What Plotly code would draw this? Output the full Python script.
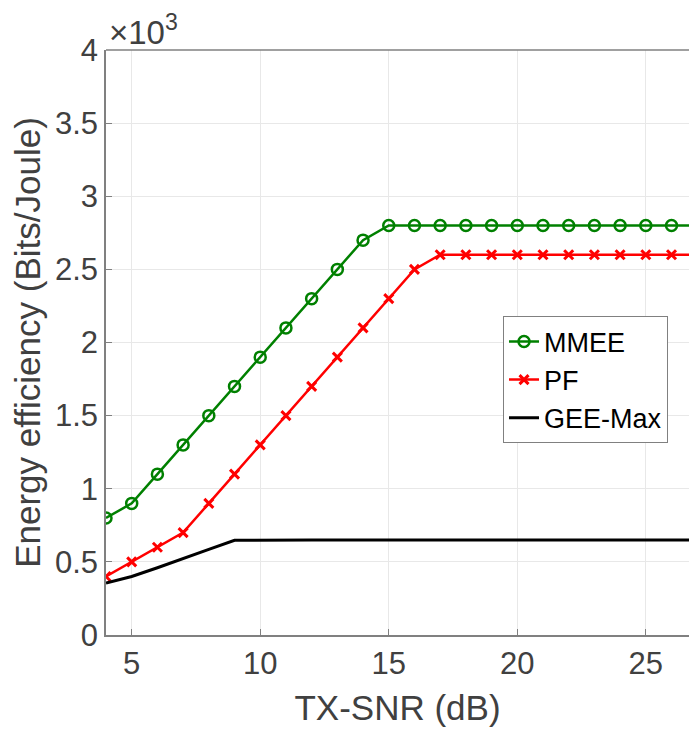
import plotly.graph_objects as go

snr = list(range(4, 28))
mmee = [800, 900, 1100, 1300, 1500, 1700, 1900, 2100, 2300, 2500, 2700,
        2800, 2800, 2800, 2800, 2800, 2800, 2800, 2800, 2800, 2800, 2800, 2800, 2800]
pf = [400, 500, 600, 700, 900, 1100, 1300, 1500, 1700, 1900, 2100, 2300, 2500,
      2600, 2600, 2600, 2600, 2600, 2600, 2600, 2600, 2600, 2600, 2600]
gee = [356, 400, 460, 520, 585, 648, 650, 650, 650, 650, 650, 650, 650,
       650, 650, 650, 650, 650, 650, 650, 650, 650, 650, 650]
y_ticks = [0, 500, 1000, 1500, 2000, 2500, 3000, 3500, 4000]
y_tick_labels = ["0", "0.5", "1", "1.5", "2", "2.5", "3", "3.5", "4"]
x_ticks = [5, 10, 15, 20, 25]

FONT = "Liberation Sans, Arial, Helvetica, sans-serif"
fig = go.Figure()
fig.add_trace(go.Scatter(x=snr, y=mmee, mode="lines+markers", name="MMEE",
                         line=dict(color="#008000", width=2.5),
                         marker=dict(symbol="circle-open", size=11, color="#008000",
                                     line=dict(width=2.5, color="#008000"))))
fig.add_trace(go.Scatter(x=snr, y=pf, mode="lines+markers", name="PF",
                         line=dict(color="#ff0000", width=2.5),
                         marker=dict(symbol="x-thin-open", size=9, color="#ff0000",
                                     line=dict(width=3, color="#ff0000"))))
fig.add_trace(go.Scatter(x=snr, y=gee, mode="lines", name="GEE-Max",
                         line=dict(color="#000000", width=3)))

fig.update_layout(
    width=689, height=733,
    margin=dict(l=106, r=0, t=50, b=98),
    plot_bgcolor="white", paper_bgcolor="white",
    font=dict(family=FONT, color="#404040"),
    showlegend=True,
    legend=dict(x=0.681, y=0.5445, xanchor="left", yanchor="top",
                bgcolor="white", bordercolor="#808080", borderwidth=1,
                font=dict(size=27, color="#000000", family=FONT),
                tracegroupgap=0, itemwidth=30),
    xaxis=dict(range=[4, 26.68], tickvals=x_ticks, showgrid=True, gridcolor="#e8e8e8",
               gridwidth=1, zeroline=False, showline=True, linecolor="#808080", linewidth=1.5,
               ticks="inside", ticklen=6, tickcolor="#808080",
               tickfont=dict(size=31, color="#404040"),
               title=dict(text="TX-SNR (dB)", font=dict(size=35, color="#404040"), standoff=16)),
    yaxis=dict(range=[0, 4000], tickvals=y_ticks, ticktext=y_tick_labels, showgrid=True,
               gridcolor="#e8e8e8", gridwidth=1, zeroline=False, showline=True,
               linecolor="#808080", linewidth=1.5, ticks="inside", ticklen=6, tickcolor="#808080",
               tickfont=dict(size=31, color="#404040"),
               title=dict(text="Energy efficiency (Bits/Joule)", font=dict(size=35, color="#404040"),
                          standoff=4)),
)
fig.add_annotation(x=0, y=1, xref="paper", yref="paper", xanchor="left", yanchor="bottom",
                   text="×10<sup>3</sup>", showarrow=False, xshift=1, yshift=-3,
                   font=dict(size=33, color="#404040", family=FONT))
fig.add_shape(type="line", xref="paper", yref="paper", x0=0, x1=1, y0=1, y1=1,
              line=dict(color="#808080", width=1.5))
fig.write_html("out.html")
